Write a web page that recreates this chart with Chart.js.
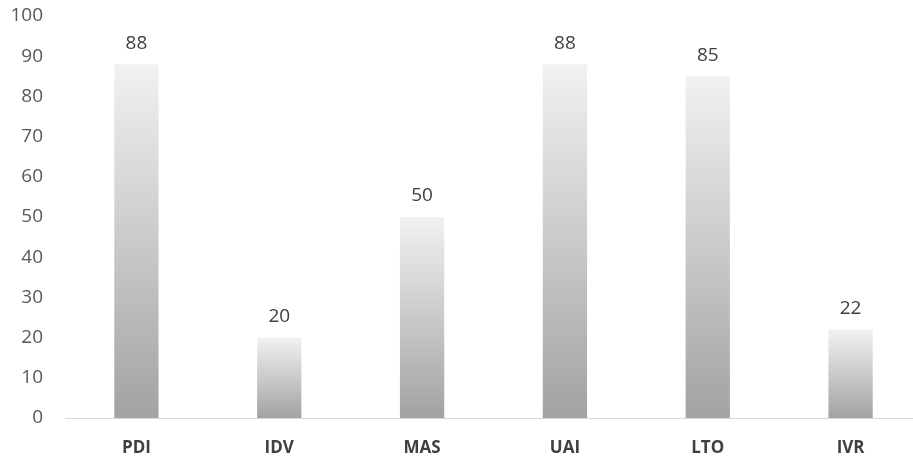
<!DOCTYPE html>
<html>
<head>
<meta charset="utf-8">
<script src="https://cdn.jsdelivr.net/npm/chart.js@4"></script>
<style>
  html, body { margin: 0; padding: 0; background: #fff; overflow: hidden; }
  #wrap { width: 922px; height: 456px; position: relative; }
</style>
</head>
<body>
<div id="wrap"><canvas id="c"></canvas></div>
<script>
// Hofstede cultural dimension scores
const categories = ['PDI', 'IDV', 'MAS', 'UAI', 'LTO', 'IVR'];
const scores = [88, 20, 50, 88, 85, 22];
const yTicks = [0, 10, 20, 30, 40, 50, 60, 70, 80, 90, 100];

const FONT = "'Open Sans', 'Noto Sans', sans-serif";

// Vertical gradient per bar: light at the top, darker grey at the base
function barGradient(ctx) {
  const chart = ctx.chart;
  const y = chart.scales.y;
  if (!y || ctx.dataIndex === undefined) return '#cccccc';
  const top = y.getPixelForValue(scores[ctx.dataIndex]);
  const base = y.getPixelForValue(0);
  if (!isFinite(top) || !isFinite(base) || top === base) return '#cccccc';
  const g = chart.ctx.createLinearGradient(0, top, 0, base);
  g.addColorStop(0, '#f1f1f1');
  g.addColorStop(0.5, '#cacaca');
  g.addColorStop(1, '#a2a2a2');
  return g;
}

// Value labels above each bar
const valueLabels = {
  id: 'valueLabels',
  afterDatasetsDraw(chart) {
    const c = chart.ctx;
    const meta = chart.getDatasetMeta(0);
    c.save();
    c.font = '19px ' + FONT;
    c.fillStyle = '#404040';
    c.textAlign = 'center';
    c.textBaseline = 'middle';
    meta.data.forEach((bar, i) => {
      c.fillText(String(scores[i]), bar.x, bar.y - 21);
    });
    c.restore();
  }
};

new Chart(document.getElementById('c'), {
  type: 'bar',
  data: {
    labels: categories,
    datasets: [{
      data: scores,
      backgroundColor: barGradient,
      borderWidth: 0,
      barPercentage: 0.31,
      categoryPercentage: 1.0
    }]
  },
  options: {
    responsive: true,
    maintainAspectRatio: false,
    animation: false,
    layout: { padding: 0 },
    plugins: {
      legend: { display: false },
      tooltip: { enabled: false }
    },
    scales: {
      x: {
        grid: { display: false, drawTicks: false },
        border: { display: true, color: '#d9d9d9', width: 1 },
        afterFit(axis) { axis.height = 38; },
        ticks: {
          color: '#404040',
          padding: 20,
          font: { family: FONT, size: 17, weight: 'bold' }
        }
      },
      y: {
        min: 0,
        max: 100,
        afterBuildTicks(axis) {
          axis.ticks = yTicks.map(v => ({ value: v }));
        },
        afterFit(axis) {
          axis.width = 65;
          axis.paddingTop = 16;
          axis.paddingBottom = 0;
        },
        grid: { display: false, drawTicks: false },
        border: { display: false },
        ticks: {
          color: '#595959',
          padding: 22,
          font: { family: FONT, size: 19 }
        }
      }
    }
  },
  plugins: [valueLabels]
});
</script>
</body>
</html>
